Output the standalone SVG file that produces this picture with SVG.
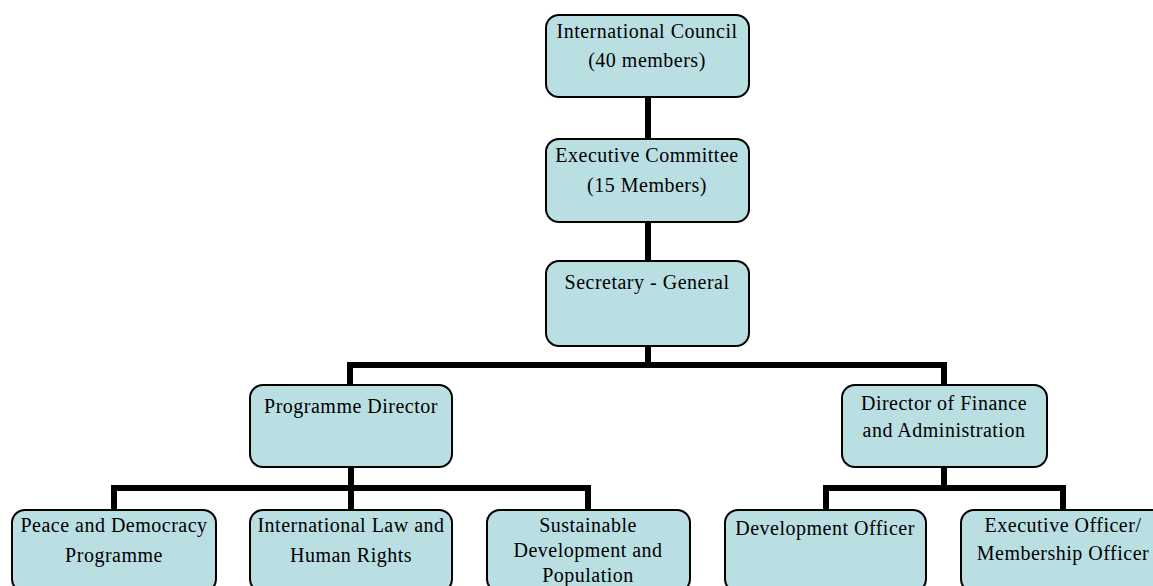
<svg xmlns="http://www.w3.org/2000/svg" width="1153" height="586" viewBox="0 0 1153 586">
<style>
.box{fill:#BADFE3;stroke:#000;stroke-width:2}
.con{fill:none;stroke:#000;stroke-width:6;stroke-linejoin:miter;stroke-linecap:butt}
</style>
<rect width="1153" height="586" fill="#fff"/>
<g id="connectors">
<path class="con" d="M648,97 V139"/>
<path class="con" d="M648,222 V261"/>
<path class="con" d="M648,346 V365"/>
<path class="con" d="M350,385 V365 H944 V385"/>
<path class="con" d="M351,467 V510"/>
<path class="con" d="M114,510 V488 H588 V510"/>
<path class="con" d="M944,467 V488"/>
<path class="con" d="M826,510 V488 H1063 V510"/>
</g>
<g font-family="Liberation Serif, Times New Roman, serif" font-size="20" letter-spacing="0.5" text-anchor="middle" fill="#000">
<g id="council">
<rect class="box" x="546" y="15" width="203" height="82" rx="13"/>
<text x="647" y="38">International Council</text>
<text x="647" y="67">(40 members)</text>
</g>
<g id="executive-committee">
<rect class="box" x="546" y="139" width="203" height="83" rx="13"/>
<text x="647" y="162">Executive Committee</text>
<text x="647" y="192">(15 Members)</text>
</g>
<g id="secretary-general">
<rect class="box" x="546" y="261" width="203" height="85" rx="13"/>
<text x="647" y="289">Secretary - General</text>
</g>
<g id="programme-director">
<rect class="box" x="250" y="385" width="202" height="82" rx="13"/>
<text x="351" y="413">Programme Director</text>
</g>
<g id="director-finance">
<rect class="box" x="842" y="385" width="205" height="82" rx="13"/>
<text x="944" y="410">Director of Finance</text>
<text x="944" y="437">and Administration</text>
</g>
<g id="peace-democracy">
<rect class="box" x="12" y="510" width="204" height="82" rx="13"/>
<text x="114" y="532">Peace and Democracy</text>
<text x="114" y="562">Programme</text>
</g>
<g id="international-law">
<rect class="box" x="250" y="510" width="202" height="82" rx="13"/>
<text x="351" y="532">International Law and</text>
<text x="351" y="562">Human Rights</text>
</g>
<g id="sustainable-development">
<rect class="box" x="487" y="510" width="203" height="82" rx="13"/>
<text x="588" y="532">Sustainable</text>
<text x="588" y="557">Development and</text>
<text x="588" y="582">Population</text>
</g>
<g id="development-officer">
<rect class="box" x="725" y="510" width="201" height="82" rx="13"/>
<text x="825" y="535">Development Officer</text>
</g>
<g id="executive-officer">
<rect class="box" x="961" y="510" width="204" height="82" rx="13"/>
<text x="1063" y="532">Executive Officer/</text>
<text x="1063" y="560">Membership Officer</text>
</g>
</g>
</svg>
